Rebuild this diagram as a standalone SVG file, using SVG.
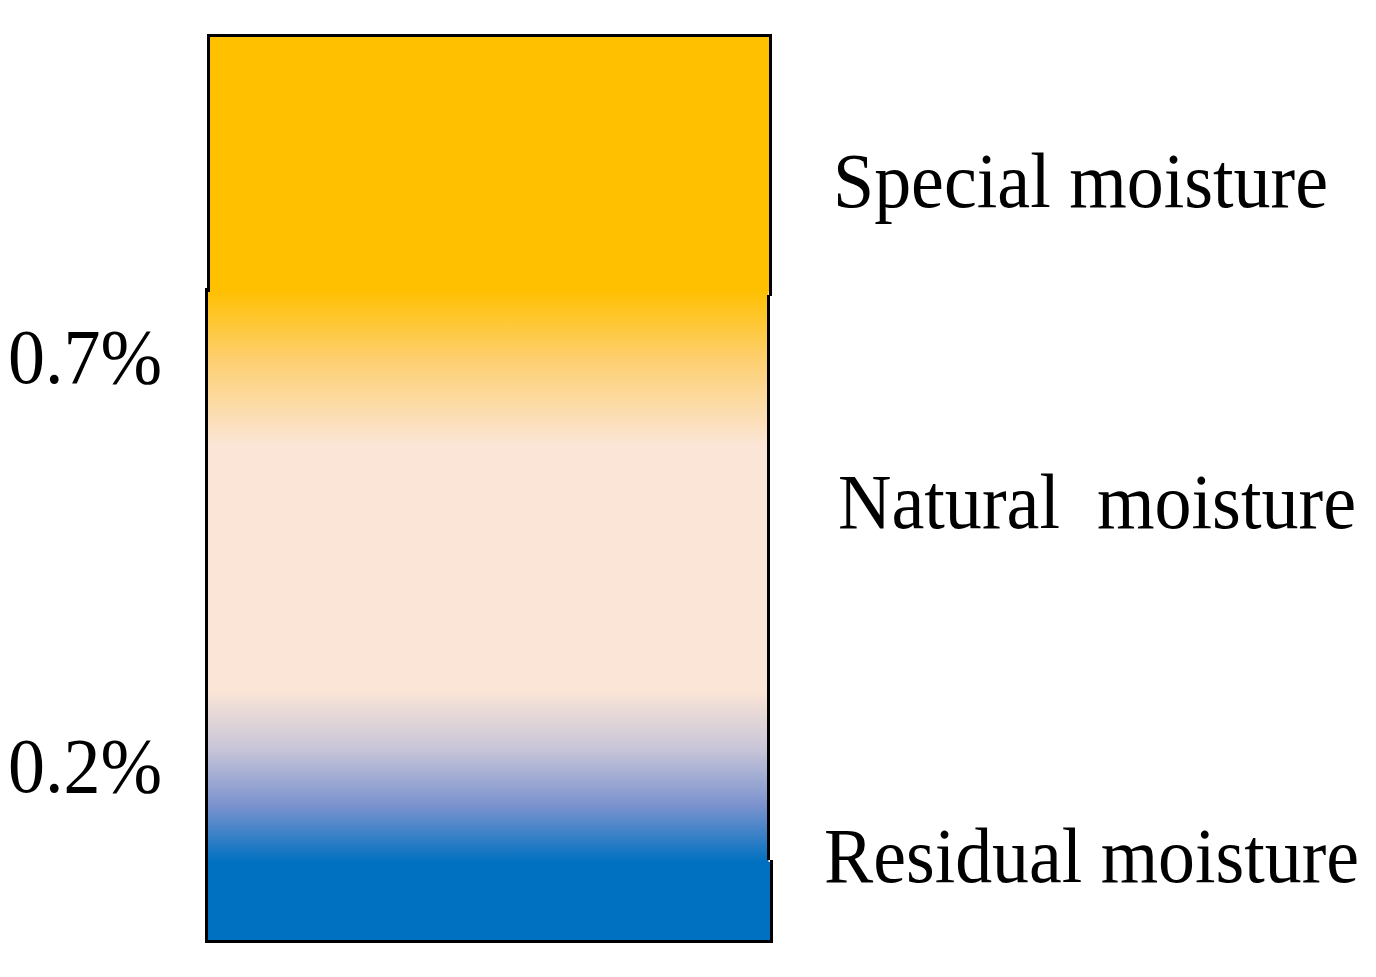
<svg xmlns="http://www.w3.org/2000/svg" width="1376" height="977" viewBox="0 0 1376 977">
  <style>
    .lbl { font-family: "Liberation Serif", "Times New Roman", serif; fill: #000; white-space: pre; }
    .edge { stroke: #000; stroke-width: 3; fill: none; }
  </style>
  <defs>
    <linearGradient id="mid" x1="0" y1="0" x2="0" y2="1">
      <stop offset="0" stop-color="#FFC000"/>
      <stop offset="0.12" stop-color="#FDCF6E"/>
      <stop offset="0.27" stop-color="#FBE5D6"/>
      <stop offset="0.70" stop-color="#FBE5D6"/>
      <stop offset="0.80" stop-color="#C9C6D8"/>
      <stop offset="0.90" stop-color="#7C93CE"/>
      <stop offset="1" stop-color="#0070C0"/>
    </linearGradient>
  </defs>
  <rect width="1376" height="977" fill="#fff"/>
  <g id="middle-zone">
    <rect x="206.5" y="290" width="562" height="572" fill="url(#mid)"/>
    <path class="edge" d="M206.5 288 V864 M768.5 295 V860"/>
  </g>
  <g id="top-zone">
    <rect x="208.5" y="35.5" width="562" height="256" fill="#FFC000"/>
    <path class="edge" d="M208.5 292 V35.5 H770.5 V296"/>
  </g>
  <g id="bottom-zone">
    <rect x="206.5" y="862" width="565" height="79.5" fill="#0070C0"/>
    <path class="edge" d="M206.5 860 V941.5 H771.5 V860"/>
  </g>
  <g id="labels">
    <text class="lbl" x="833" y="207" font-size="78" textLength="495" lengthAdjust="spacingAndGlyphs">Special moisture</text>
    <text class="lbl" x="838" y="528" font-size="78" textLength="518" lengthAdjust="spacingAndGlyphs">Natural  moisture</text>
    <text class="lbl" x="824" y="882" font-size="78" textLength="535" lengthAdjust="spacingAndGlyphs">Residual moisture</text>
    <text class="lbl" x="8" y="383" font-size="78" textLength="154" lengthAdjust="spacingAndGlyphs">0.7%</text>
    <text class="lbl" x="8" y="792" font-size="78" textLength="154" lengthAdjust="spacingAndGlyphs">0.2%</text>
  </g>
</svg>
